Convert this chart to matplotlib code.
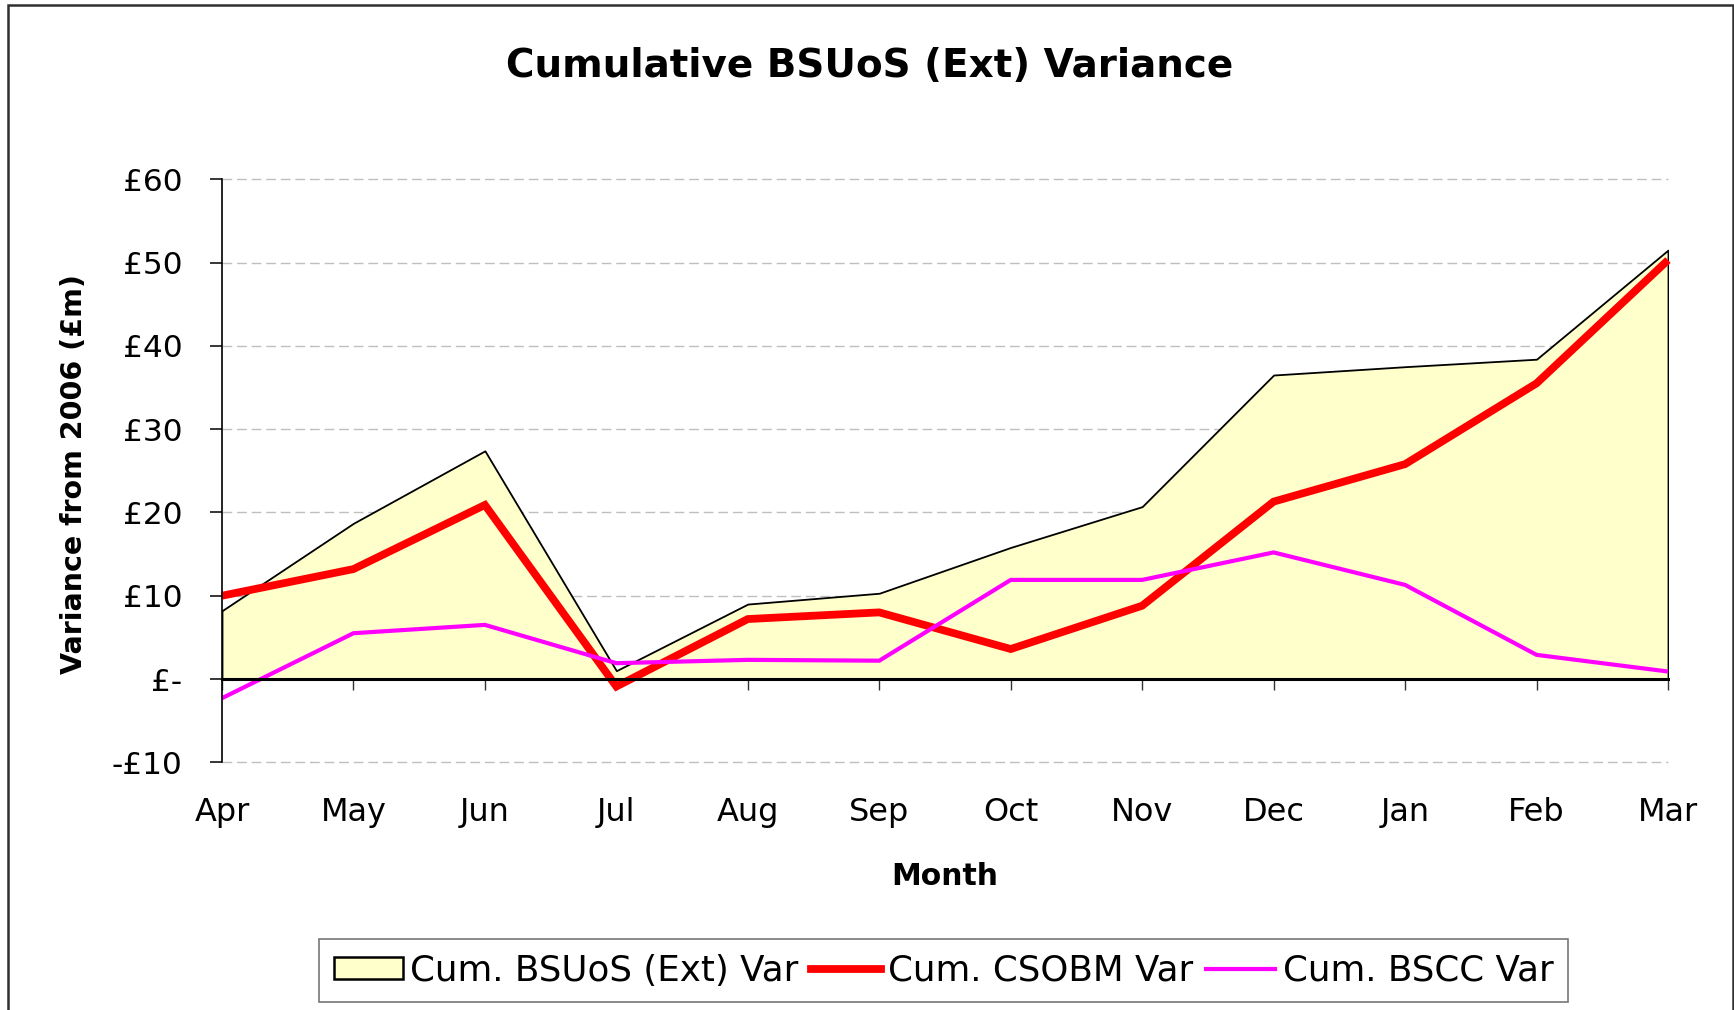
import matplotlib
matplotlib.use('Agg')
import matplotlib.pyplot as plt
from matplotlib.patches import Rectangle, Patch
from matplotlib.lines import Line2D

months = ['Apr', 'May', 'Jun', 'Jul', 'Aug', 'Sep', 'Oct', 'Nov', 'Dec', 'Jan', 'Feb', 'Mar']
bsuos_ext = [8.2, 18.7, 27.4, 1.0, 9.0, 10.3, 15.8, 20.7, 36.5, 37.5, 38.4, 51.5]
csobm = [10.0, 13.2, 20.9, -0.9, 7.2, 8.0, 3.6, 8.8, 21.3, 25.8, 35.5, 50.3]
bscc = [-2.3, 5.5, 6.5, 1.9, 2.3, 2.2, 11.9, 11.9, 15.2, 11.3, 2.9, 0.9]
yticks = [-10, 0, 10, 20, 30, 40, 50, 60]
ytick_labels = ['-£10', '£-', '£10', '£20', '£30', '£40', '£50', '£60']
series_names = ['Cum. BSUoS (Ext) Var', 'Cum. CSOBM Var', 'Cum. BSCC Var']

W, H = 1734, 1010
fig = plt.figure(figsize=(W / 100, H / 100), dpi=100)
plt.rcParams['font.family'] = ['DejaVu Sans']

ax = fig.add_axes([222 / W, 1 - 762.3 / H, (1668 - 222) / W, (762.3 - 179.3) / H])
x = list(range(len(months)))

ax.fill_between(x, 0, bsuos_ext, facecolor='#FFFFCC', edgecolor='black', linewidth=1.3, zorder=2)
ax.plot(x, csobm, color='#FF0000', linewidth=5.6, solid_joinstyle='miter', solid_capstyle='butt', zorder=3, clip_on=False)
ax.plot(x, bscc, color='#FF00FF', linewidth=3.0, solid_joinstyle='miter', solid_capstyle='butt', zorder=4, clip_on=False)

ax.set_xlim(0, len(months) - 1)
ax.set_ylim(-10, 60)

ax.set_yticks(yticks)
ax.set_yticklabels(ytick_labels)
for v in yticks:
    if v != 0:
        ax.axhline(v, color='#bfbfbf', linewidth=1.0, linestyle=(0, (7, 3.5)), zorder=1, clip_on=False)

for s in ['top', 'right']:
    ax.spines[s].set_visible(False)
ax.spines['left'].set_linewidth(1.2)
ax.spines['left'].set_zorder(5)
ax.spines['bottom'].set_position(('data', 0))
ax.spines['bottom'].set_linewidth(2.2)
ax.spines['bottom'].set_zorder(5)

ax.tick_params(axis='y', direction='out', length=8.4, width=1.1, pad=20, labelsize=22.5)
ax.set_xticks(x)
ax.tick_params(axis='x', direction='out', length=8, width=1.0, labelbottom=False, color='#333333')

sec = ax.secondary_xaxis('bottom')
sec.set_xticks(x)
sec.set_xticklabels(months)
sec.tick_params(axis='x', length=0, pad=25, labelsize=23)
sec.spines['bottom'].set_visible(False)

ax.set_ylabel('Variance from 2006 (£m)', fontsize=20.5, fontweight='bold')
ax.yaxis.set_label_coords(-0.0927, 0.4937)
ax.set_xlabel('Month', fontsize=21.5, fontweight='bold')
ax.xaxis.label.set_va('baseline')
ax.xaxis.set_label_coords(0.5, 1 - (885 - 179.3) / (762.3 - 179.3))

fig.text(870 / W, 1 - 77 / H, 'Cumulative BSUoS (Ext) Variance', ha='center', va='baseline',
         fontsize=28, fontweight='bold')

handles = [Patch(facecolor='#FFFFCC', edgecolor='black', linewidth=1.8),
           Line2D([0], [0], color='#FF0000', linewidth=5.6),
           Line2D([0], [0], color='#FF00FF', linewidth=3.0)]
leg = fig.legend(handles, series_names, loc='center', bbox_to_anchor=(943.5 / W, 1 - 970.5 / H),
                 ncol=3, fontsize=25.7, frameon=True, fancybox=False, edgecolor='#555555',
                 handlelength=1.95, handleheight=0.6, handletextpad=0.2, columnspacing=0.35,
                 borderpad=0.42, borderaxespad=0)
leg.get_frame().set_linewidth(1.2)

fig.patches.append(Rectangle((8 / W, -0.02), (1733 - 8) / W, 1.02 - 5 / H, transform=fig.transFigure,
                             fill=False, edgecolor='#303030', linewidth=1.8))

fig.savefig('out.png', dpi=100)
